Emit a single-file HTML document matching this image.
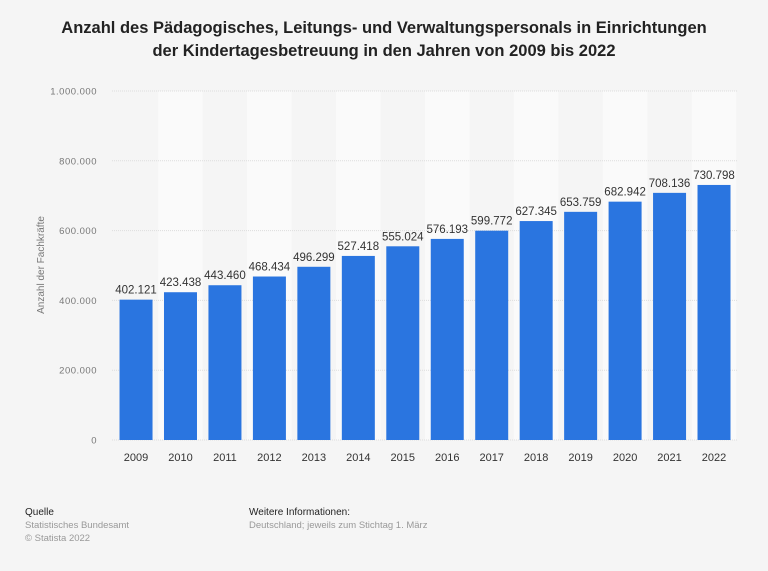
<!DOCTYPE html>
<html><head><meta charset="utf-8"><style>
body{margin:0;background:#f5f5f5;font-family:"Liberation Sans",sans-serif;}
</style></head><body>
<svg width="768" height="571" xmlns="http://www.w3.org/2000/svg" style="display:block;font-family:'Liberation Sans',sans-serif">
<rect width="768" height="571" fill="#f5f5f5"/>
<text x="384" y="33" text-anchor="middle" font-size="16.5" font-weight="bold" fill="#222">Anzahl des Pädagogisches, Leitungs- und Verwaltungspersonals in Einrichtungen</text>
<text x="384" y="56" text-anchor="middle" font-size="16.5" font-weight="bold" fill="#222">der Kindertagesbetreuung in den Jahren von 2009 bis 2022</text>
<g id="stripes"></g><g id="grid"></g><g id="bars"></g><g id="labels"></g>
<text transform="translate(44,265) rotate(-90)" text-anchor="middle" font-size="10" fill="#777">Anzahl der Fachkräfte</text>
<text x="25" y="515" font-size="10" fill="#222">Quelle</text>
<text x="25" y="528" font-size="9.5" fill="#999">Statistisches Bundesamt</text>
<text x="25" y="541" font-size="9.5" fill="#999">© Statista 2022</text>
<text x="249" y="515" font-size="10" fill="#222">Weitere Informationen:</text>
<text x="249" y="528" font-size="9.5" fill="#999">Deutschland; jeweils zum Stichtag 1. März</text>
</svg>
<script>
const categories=["2009","2010","2011","2012","2013","2014","2015","2016","2017","2018","2019","2020","2021","2022"];
const values=[402121,423438,443460,468434,496299,527418,555024,576193,599772,627345,653759,682942,708136,730798];
const valueLabels=["402.121","423.438","443.460","468.434","496.299","527.418","555.024","576.193","599.772","627.345","653.759","682.942","708.136","730.798"];
const ticks=[0,200000,400000,600000,800000,1000000];
const tickLabels=["0","200.000","400.000","600.000","800.000","1.000.000"];
const NS="http://www.w3.org/2000/svg";
const x0=113.8,band=44.46,y0=440,yMax=1000000,h=349;
const y=v=>y0-v/yMax*h;
const xb=i=>x0+i*band;
function mk(t,a,p){const e=document.createElementNS(NS,t);for(const k in a)e.setAttribute(k,a[k]);p.appendChild(e);return e;}
const S=document.getElementById('stripes'),G=document.getElementById('grid'),B=document.getElementById('bars'),L=document.getElementById('labels');
categories.forEach((c,i)=>{if(i%2==1){const r=mk('rect',{x:xb(i),y:y(yMax),width:band,height:h,fill:'#fafafa'},S);

}});
ticks.forEach((t,i)=>{const l=mk('line',{x1:112,x2:738,y1:y(t),y2:y(t),stroke:'#ddd','stroke-dasharray':'1,1'},G);


const tx=mk('text',{x:97,y:y(t)+3.5,'text-anchor':'end','font-size':'9.5',fill:'#777','letter-spacing':'0.5'},G);tx.textContent=tickLabels[i];

});
categories.forEach((c,i)=>{const bw=33,bx=xb(i)+(band-bw)/2;
const r=mk('rect',{x:bx,y:y(values[i]),width:bw,height:y0-y(values[i]),fill:'#2a75e0'},B);


const v=mk('text',{x:xb(i)+band/2,y:y(values[i])-6,'text-anchor':'middle','font-size':'11.5',fill:'#333'},L);v.textContent=valueLabels[i];


const cl=mk('text',{x:xb(i)+band/2,y:461,'text-anchor':'middle','font-size':'11',fill:'#333'},L);cl.textContent=c;

});
</script>
</body></html>
